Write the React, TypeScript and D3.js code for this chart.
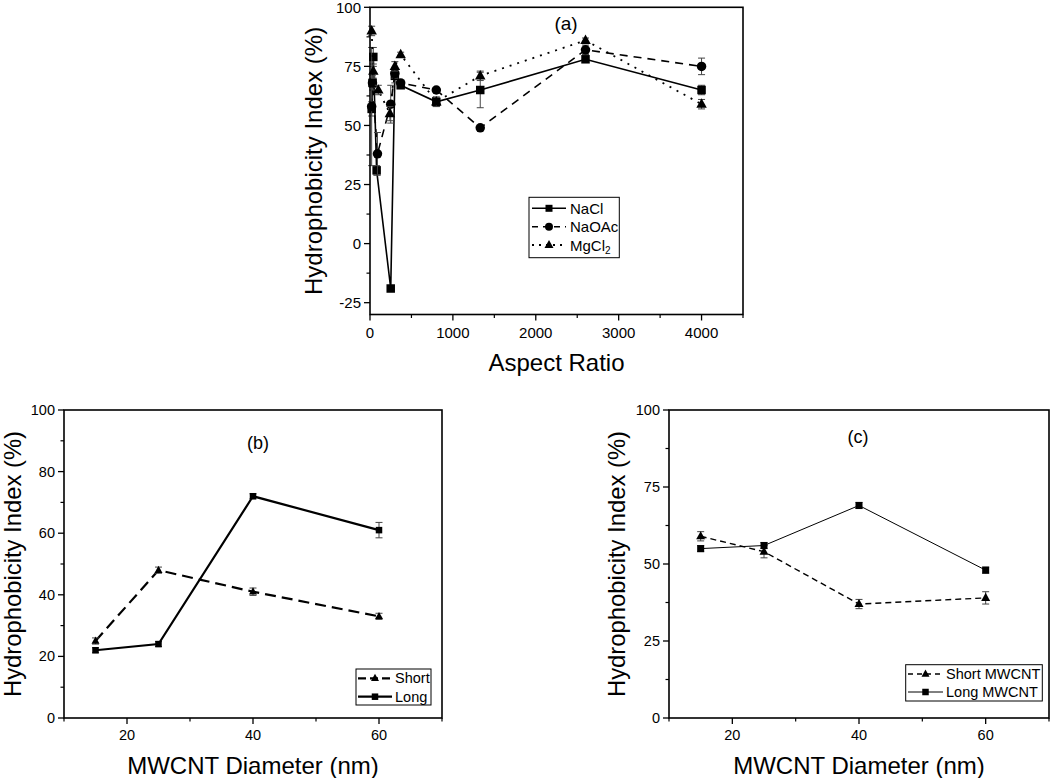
import React from "react";
import * as d3 from "d3";

// ---------- Panel (a) data ----------
const aspectNaCl = [20, 30, 40, 80, 250, 300, 370, 800, 1330, 2600, 4000];
const valNaCl = [57, 68, 79, 31, -19, 71, 67, 60, 65, 78, 65];
const errNaCl = [3, 2, 4, 2, 1, 3, 1, 2, 7.5, 1, 2];

const aspectNaOAc = [20, 30, 90, 250, 300, 370, 800, 1330, 2600, 4000];
const valNaOAc = [58, 68, 38, 59, 72, 68, 65, 49, 82, 75];
const errNaOAc = [25, 3, 9, 8, 2, 1, 1, 1, 2, 3.5];

const aspectMgCl2 = [20, 40, 100, 240, 300, 370, 800, 1330, 2600, 4000];
const valMgCl2 = [90, 73, 65, 55, 75, 80, 60, 71, 86, 59];
const errMgCl2 = [2, 3, 2, 3, 2, 1, 2, 2, 1, 2];

// ---------- Panel (b) data ----------
const diameterB = [15, 25, 40, 60];
const valShortB = [25, 48, 41, 33];
const errShortB = [1, 1, 1.2, 1];
const valLongB = [22, 24, 72, 61];
const errLongB = [0.8, 0.8, 0.8, 2.5];

// ---------- Panel (c) data ----------
const diameterC = [15, 25, 40, 60];
const valShortC = [59, 54, 37, 39];
const errShortC = [1.5, 2, 1.5, 2];
const valLongC = [55, 56, 69, 48];
const errLongC = [1, 1, 1, 1];

// ---------- tick labels ----------
const ticksAX = [0, 1000, 2000, 3000, 4000];
const minorAX = [500, 1500, 2500, 3500, 4500];
const ticksAY = [-25, 0, 25, 50, 75, 100];
const minorAY = [-12.5, 12.5, 37.5, 62.5, 87.5];
const ticksBX = [20, 40, 60];
const minorBX = [10, 30, 50, 70];
const ticksBY = [0, 20, 40, 60, 80, 100];
const minorBY = [10, 30, 50, 70, 90];
const ticksCY = [0, 25, 50, 75, 100];
const minorCY = [12.5, 37.5, 62.5, 87.5];

const FONT = "'Liberation Sans', Arial, Helvetica, sans-serif";

type Series = {
  xs: number[];
  ys: number[];
  errs: number[];
  shape: "square" | "circle" | "triangle";
  dash?: string;
  width: number;
  size: number;
};

function Marker({ shape, x, y, size }: { shape: string; x: number; y: number; size: number }) {
  if (shape === "square") {
    return <rect x={x - size / 2} y={y - size / 2} width={size} height={size} fill="#000" />;
  }
  if (shape === "circle") {
    return <circle cx={x} cy={y} r={size / 2} fill="#000" />;
  }
  const h = size * 0.9;
  return (
    <path
      d={`M${x},${y - h * 0.62} L${x + size / 2},${y + h * 0.38} L${x - size / 2},${y + h * 0.38} Z`}
      fill="#000"
    />
  );
}

function Panel(props: {
  left: number;
  right: number;
  top: number;
  bottom: number;
  xDomain: [number, number];
  yDomain: [number, number];
  xTicks: number[];
  xMinor: number[];
  yTicks: number[];
  yMinor: number[];
  series: Series[];
  tickFont: number;
  titleFont: number;
  xTitle: string;
  yTitle: string;
  yTitleX: number;
  yTitleLen?: number;
  xTickY: number;
  xTitleY: number;
  label: string;
  labelX: number;
  labelY: number;
  labelFont: number;
}) {
  const p = props;
  const x = d3.scaleLinear().domain(p.xDomain).range([p.left, p.right]);
  const y = d3.scaleLinear().domain(p.yDomain).range([p.bottom, p.top]);
  const line = d3
    .line<[number, number]>()
    .x((d) => x(d[0]))
    .y((d) => y(d[1]));
  const midY = (p.top + p.bottom) / 2;
  const midX = (p.left + p.right) / 2;
  return (
    <g fontFamily={FONT}>
      {p.series.map((s, i) => {
        const pts = s.xs.map((xv, j) => [xv, s.ys[j]] as [number, number]);
        return (
          <g key={i}>
            <path d={line(pts) || ""} fill="none" stroke="#000" strokeWidth={s.width} strokeDasharray={s.dash} />
            {pts.map((d, j) => {
              const e = s.errs[j];
              const cx = x(d[0]);
              return (
                <g key={j} stroke="#444" strokeWidth={1}>
                  <line x1={cx} x2={cx} y1={y(d[1] - e)} y2={y(d[1] + e)} />
                  <line x1={cx - 3.5} x2={cx + 3.5} y1={y(d[1] - e)} y2={y(d[1] - e)} />
                  <line x1={cx - 3.5} x2={cx + 3.5} y1={y(d[1] + e)} y2={y(d[1] + e)} />
                </g>
              );
            })}
            {pts.map((d, j) => (
              <Marker key={"m" + j} shape={s.shape} x={x(d[0])} y={y(d[1])} size={s.size} />
            ))}
          </g>
        );
      })}
      <rect x={p.left} y={p.top} width={p.right - p.left} height={p.bottom - p.top} fill="none" stroke="#000" strokeWidth={1.6} />
      {p.xTicks.map((t) => (
        <g key={"xt" + t}>
          <line x1={x(t)} x2={x(t)} y1={p.bottom} y2={p.bottom + 6} stroke="#000" strokeWidth={1.3} />
          <text x={x(t)} y={p.xTickY} textAnchor="middle" fontSize={p.tickFont} dominantBaseline="central">
            {t}
          </text>
        </g>
      ))}
      {p.xMinor.map((t) => (
        <line key={"xm" + t} x1={x(t)} x2={x(t)} y1={p.bottom} y2={p.bottom + 3.5} stroke="#000" strokeWidth={1.2} />
      ))}
      {p.yTicks.map((t) => (
        <g key={"yt" + t}>
          <line x1={p.left - 6} x2={p.left} y1={y(t)} y2={y(t)} stroke="#000" strokeWidth={1.3} />
          <text x={p.left - 9} y={y(t)} textAnchor="end" fontSize={p.tickFont} dominantBaseline="central">
            {t}
          </text>
        </g>
      ))}
      {p.yMinor.map((t) => (
        <line key={"ym" + t} x1={p.left - 3.5} x2={p.left} y1={y(t)} y2={y(t)} stroke="#000" strokeWidth={1.2} />
      ))}
      <text x={midX} y={p.xTitleY} textAnchor="middle" fontSize={p.titleFont} dominantBaseline="central">
        {p.xTitle}
      </text>
      <text
        transform={`translate(${p.yTitleX},${midY}) rotate(-90)`}
        textAnchor="middle"
        fontSize={p.titleFont}
        dominantBaseline="central"
        textLength={p.yTitleLen}
        lengthAdjust="spacingAndGlyphs"
      >
        {p.yTitle}
      </text>
      <text x={p.labelX} y={p.labelY} textAnchor="middle" fontSize={p.labelFont} dominantBaseline="central">
        {p.label}
      </text>
    </g>
  );
}

function LegendRow(props: { x1: number; x2: number; y: number; dash?: string; width: number; shape: string; size: number; textX: number; fontSize: number; children: React.ReactNode }) {
  const p = props;
  const cx = (p.x1 + p.x2) / 2;
  return (
    <g fontFamily={FONT}>
      <line x1={p.x1} x2={p.x2} y1={p.y} y2={p.y} stroke="#000" strokeWidth={p.width} strokeDasharray={p.dash} />
      <Marker shape={p.shape} x={cx} y={p.y} size={p.size} />
      <text x={p.textX} y={p.y} fontSize={p.fontSize} dominantBaseline="central">
        {p.children}
      </text>
    </g>
  );
}

export default function App() {
  const seriesA: Series[] = [
    { xs: aspectNaCl, ys: valNaCl, errs: errNaCl, shape: "square", width: 1.6, size: 8.5 },
    { xs: aspectNaOAc, ys: valNaOAc, errs: errNaOAc, shape: "circle", dash: "8,6", width: 1.6, size: 9.5 },
    { xs: aspectMgCl2, ys: valMgCl2, errs: errMgCl2, shape: "triangle", dash: "2,6", width: 1.8, size: 10.5 },
  ];
  const seriesB: Series[] = [
    { xs: diameterB, ys: valShortB, errs: errShortB, shape: "triangle", dash: "11,6", width: 2.2, size: 8 },
    { xs: diameterB, ys: valLongB, errs: errLongB, shape: "square", width: 2.2, size: 6.5 },
  ];
  const seriesC: Series[] = [
    { xs: diameterC, ys: valShortC, errs: errShortC, shape: "triangle", dash: "6,4", width: 1.4, size: 9 },
    { xs: diameterC, ys: valLongC, errs: errLongC, shape: "square", width: 1, size: 7 },
  ];
  return (
    <svg width={1050} height={778} style={{ position: "absolute", left: 0, top: 0, background: "#fff" }}>
      <rect x={0} y={0} width={1050} height={778} fill="#fff" />
      <Panel
        left={370}
        right={743}
        top={7.3}
        bottom={314.5}
        xDomain={[0, 4500]}
        yDomain={[-30, 100]}
        xTicks={ticksAX}
        xMinor={minorAX}
        yTicks={ticksAY}
        yMinor={minorAY}
        series={seriesA}
        tickFont={15}
        titleFont={24}
        xTitle="Aspect Ratio"
        yTitle="Hydrophobicity Index (%)"
        yTitleX={313}
        xTickY={332}
        xTitleY={362}
        label="(a)"
        labelX={566}
        labelY={23}
        labelFont={19}
      />
      <rect x={529} y={197.3} width={90.3} height={60.4} fill="#fff" stroke="#000" strokeWidth={1} />
      <LegendRow x1={532} x2={566} y={208.3} width={1.6} shape="square" size={7} textX={570} fontSize={15}>NaCl</LegendRow>
      <LegendRow x1={532} x2={566} y={226.7} dash="6,5" width={1.6} shape="circle" size={8} textX={570} fontSize={15}>NaOAc</LegendRow>
      <LegendRow x1={532} x2={566} y={245} dash="2,5" width={1.8} shape="triangle" size={9} textX={570} fontSize={15}>
        MgCl<tspan fontSize={10} dy={5}>2</tspan>
      </LegendRow>

      <Panel
        left={64}
        right={442}
        top={410}
        bottom={718}
        xDomain={[10, 70]}
        yDomain={[0, 100]}
        xTicks={ticksBX}
        xMinor={minorBX}
        yTicks={ticksBY}
        yMinor={minorBY}
        series={seriesB}
        tickFont={14.5}
        titleFont={24}
        xTitle="MWCNT Diameter (nm)"
        yTitle="Hydrophobicity Index (%)"
        yTitleX={12}
        yTitleLen={266}
        xTickY={735}
        xTitleY={765}
        label="(b)"
        labelX={258}
        labelY={443}
        labelFont={18}
      />
      <rect x={356} y={669} width={75} height={36} fill="#fff" stroke="#000" strokeWidth={1} />
      <LegendRow x1={358} x2={392} y={678.3} dash="8,4" width={2.2} shape="triangle" size={8} textX={395} fontSize={14.5}>Short</LegendRow>
      <LegendRow x1={358} x2={392} y={696.7} width={2.2} shape="square" size={6.5} textX={395} fontSize={14.5}>Long</LegendRow>

      <Panel
        left={669}
        right={1049}
        top={410}
        bottom={718}
        xDomain={[10, 70]}
        yDomain={[0, 100]}
        xTicks={ticksBX}
        xMinor={minorBX}
        yTicks={ticksCY}
        yMinor={minorCY}
        series={seriesC}
        tickFont={14.5}
        titleFont={24}
        xTitle="MWCNT Diameter (nm)"
        yTitle="Hydrophobicity Index (%)"
        yTitleX={616.5}
        yTitleLen={266}
        xTickY={735}
        xTitleY={765}
        label="(c)"
        labelX={858}
        labelY={437}
        labelFont={18}
      />
      <rect x={905.7} y={664.7} width={136.6} height={36.3} fill="#fff" stroke="#000" strokeWidth={1} />
      <LegendRow x1={908} x2={943} y={674} dash="5,4" width={1.3} shape="triangle" size={8} textX={946} fontSize={14.5}>Short MWCNT</LegendRow>
      <LegendRow x1={908} x2={943} y={692} width={1} shape="square" size={6.5} textX={946} fontSize={14.5}>Long MWCNT</LegendRow>
    </svg>
  );
}
